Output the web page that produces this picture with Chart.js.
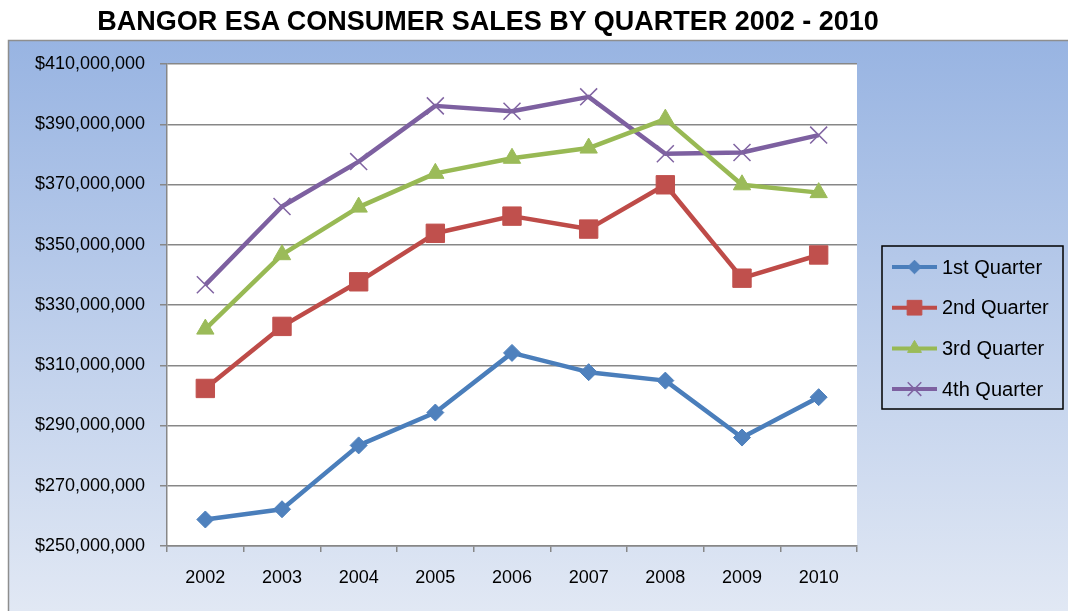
<!DOCTYPE html>
<html>
<head>
<meta charset="utf-8">
<title>Bangor ESA Consumer Sales by Quarter</title>
<script src="https://cdn.jsdelivr.net/npm/chart.js"></script>
<style>
  html, body { margin: 0; padding: 0; background: #fff; overflow: hidden; }
  #wrap { position: relative; width: 1068px; height: 611px; }
  #sales { position: absolute; left: 0; top: 0; }
  #title {
    position: absolute; left: 0; top: 8px; width: 976px;
    text-align: center; color: #000;
    font: bold 27px "Liberation Sans", Arial, sans-serif; line-height: 27px;
  }
</style>
</head>
<body>
<div id="wrap">
  <canvas id="sales" width="1068" height="611"></canvas>
  <div id="title">BANGOR ESA CONSUMER SALES BY QUARTER 2002 - 2010</div>
</div>
<script>
// consumer sales in dollars, one array per quarter
const years = ['2002', '2003', '2004', '2005', '2006', '2007', '2008', '2009', '2010'];
const q1Sales = [258800000, 262200000, 283400000, 294300000, 314100000, 307700000, 304900000, 286000000, 299400000];
const q2Sales = [302300000, 322900000, 337700000, 353800000, 359500000, 355200000, 369900000, 338900000, 346600000];
const q3Sales = [322000000, 346700000, 362500000, 373700000, 378700000, 382100000, 391700000, 369900000, 367300000];
const q4Sales = [336700000, 362700000, 377600000, 396100000, 394300000, 399100000, 380200000, 380600000, 386400000];
const quarterNames = ['1st Quarter', '2nd Quarter', '3rd Quarter', '4th Quarter'];
const yMin = 250000000;
const yMax = 410000000;
const yStep = 20000000;

const lineColors = ['#4a7ebb', '#be4b48', '#98b954', '#7d60a0'];
const markerColors = ['#4f81bd', '#c0504d', '#9bbb59', '#8064a2'];
const markers = ['rectRot', 'rect', 'triangle', 'crossRot'];
const markerSizes = [8.5, 13, 10, 12];
const gridGray = '#878787';

const makeSeries = (values, i) => ({
  label: quarterNames[i],
  data: values,
  borderColor: lineColors[i],
  borderWidth: 4.5,
  borderJoinStyle: 'round',
  tension: 0,
  pointStyle: markers[i],
  pointRadius: markerSizes[i],
  pointBackgroundColor: markerColors[i],
  pointBorderColor: markerColors[i],
  pointBorderWidth: markers[i] === 'crossRot' ? 1.5 : 1
});

// blue gradient panel behind the chart, white plot area on top
const backdrop = {
  id: 'backdrop',
  beforeDraw(chart) {
    const { ctx, chartArea: a, width, height } = chart;
    ctx.save();
    const g = ctx.createLinearGradient(0, 40, 0, height);
    g.addColorStop(0, '#98b4e2');
    g.addColorStop(1, '#e1e8f4');
    ctx.fillStyle = g;
    ctx.fillRect(8, 40, width - 8, height - 40);
    ctx.strokeStyle = '#8e8e8e';
    ctx.lineWidth = 1.5;
    ctx.beginPath();
    ctx.moveTo(8.5, height);
    ctx.lineTo(8.5, 40.5);
    ctx.lineTo(width, 40.5);
    ctx.stroke();
    ctx.fillStyle = '#fff';
    ctx.fillRect(a.left, a.top, a.right - a.left, a.bottom - a.top);
    ctx.restore();
  }
};

// boxed legend on the right: line sample with its marker, then the name
const boxLegend = {
  id: 'boxLegend',
  afterDraw(chart) {
    const ctx = chart.ctx;
    const left = chart.chartArea.right + 25;
    const top = 246;
    ctx.save();
    ctx.strokeStyle = '#000';
    ctx.lineWidth = 1.5;
    ctx.strokeRect(left, top, 181, 163);
    chart.data.datasets.forEach((ds, i) => {
      const y = top + 21 + i * 40.7;
      ctx.strokeStyle = ds.borderColor;
      ctx.lineWidth = 4;
      ctx.beginPath();
      ctx.moveTo(left + 10, y);
      ctx.lineTo(left + 55, y);
      ctx.stroke();
      ctx.fillStyle = ds.pointBackgroundColor;
      ctx.strokeStyle = ds.pointBorderColor;
      ctx.lineWidth = ds.pointBorderWidth;
      Chart.helpers.drawPoint(ctx, {
        pointStyle: ds.pointStyle,
        radius: ds.pointRadius * 0.8,
        borderWidth: ds.pointBorderWidth,
        rotation: 0
      }, left + 32.5, y);
      ctx.fillStyle = '#000';
      ctx.font = '20px "Liberation Sans", Arial, sans-serif';
      ctx.textBaseline = 'middle';
      ctx.textAlign = 'left';
      ctx.fillText(ds.label, left + 60, y + 1);
    });
    ctx.restore();
  }
};

new Chart(document.getElementById('sales'), {
  type: 'line',
  data: {
    labels: years,
    datasets: [q1Sales, q2Sales, q3Sales, q4Sales].map(makeSeries)
  },
  options: {
    responsive: false,
    animation: false,
    devicePixelRatio: 1,
    layout: { padding: { left: 10, right: 211, top: 64, bottom: 0 } },
    plugins: {
      legend: { display: false },
      title: { display: false },
      tooltip: { enabled: false }
    },
    scales: {
      x: {
        offset: true,
        afterFit: (scale) => { scale.height = 65; },
        grid: { display: true, drawOnChartArea: false, offset: true, tickLength: 6, color: gridGray, lineWidth: 1.5 },
        border: { color: gridGray, width: 1.5 },
        ticks: {
          color: '#000',
          padding: 15,
          font: { family: '"Liberation Sans", Arial, sans-serif', size: 18 }
        }
      },
      y: {
        min: yMin,
        max: yMax,
        afterFit: (scale) => { scale.width = 157; },
        grid: { color: gridGray, lineWidth: 1.5, tickLength: 7 },
        border: { color: gridGray, width: 1.5 },
        ticks: {
          stepSize: yStep,
          color: '#000',
          padding: 15,
          font: { family: '"Liberation Sans", Arial, sans-serif', size: 18 },
          callback: (v) => '$' + Number(v).toLocaleString('en-US')
        }
      }
    }
  },
  plugins: [backdrop, boxLegend]
});
</script>
</body>
</html>
